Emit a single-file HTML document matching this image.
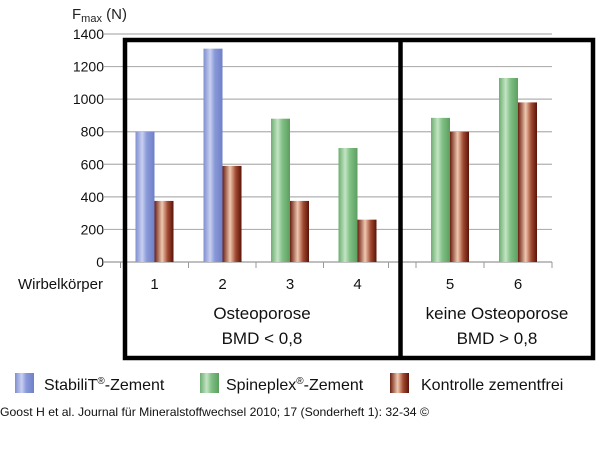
<!DOCTYPE html>
<html><head><meta charset="utf-8"><style>
body{margin:0;background:#fff;width:600px;height:461px;overflow:hidden;font-family:"Liberation Sans",sans-serif}
svg{display:block}
</style></head><body>
<svg width="600" height="461" viewBox="0 0 600 461" font-family="Liberation Sans, sans-serif">
<defs>
<linearGradient id="gb" x1="0" x2="1"><stop offset="0" stop-color="#7f8fd0"/><stop offset=".35" stop-color="#c8d0f0"/><stop offset=".6" stop-color="#8898d8"/><stop offset="1" stop-color="#6f80c8"/></linearGradient>
<linearGradient id="gg" x1="0" x2="1"><stop offset="0" stop-color="#6cae70"/><stop offset=".35" stop-color="#c4e4c4"/><stop offset=".6" stop-color="#80c084"/><stop offset="1" stop-color="#5c9e60"/></linearGradient>
<linearGradient id="gr" x1="0" x2="1"><stop offset="0" stop-color="#6a1e10"/><stop offset=".4" stop-color="#f0c8b0"/><stop offset=".7" stop-color="#a04830"/><stop offset="1" stop-color="#5a1408"/></linearGradient>
</defs>
<text x="72" y="19" font-size="15" fill="#222">F<tspan font-size="11" dy="3">max</tspan><tspan dy="-3"> (N)</tspan></text>
<g id="grid"></g>
<g id="bars"></g>
<g id="labels"></g>
<text x="103" y="289" font-size="15" text-anchor="end" fill="#111">Wirbelkörper</text>
<rect x="125" y="40" width="468" height="318" fill="none" stroke="#000" stroke-width="4.5"/>
<line x1="400.5" y1="40" x2="400.5" y2="358" stroke="#000" stroke-width="4.5"/>
<text x="262" y="319" font-size="17" text-anchor="middle" fill="#111">Osteoporose</text>
<text x="262" y="344" font-size="17" text-anchor="middle" fill="#111">BMD &lt; 0,8</text>
<text x="497" y="319" font-size="17" text-anchor="middle" fill="#111">keine Osteoporose</text>
<text x="497" y="344" font-size="17" text-anchor="middle" fill="#111">BMD &gt; 0,8</text>
<rect x="15" y="373" width="19" height="20" fill="url(#gb)"/>
<text x="44" y="390" font-size="16" fill="#111">StabiliT<tspan font-size="10" dy="-6">®</tspan><tspan dy="6">-Zement</tspan></text>
<rect x="200" y="373" width="19" height="20" fill="url(#gg)"/>
<text x="226" y="390" font-size="16" fill="#111">Spineplex<tspan font-size="10" dy="-6">®</tspan><tspan dy="6">-Zement</tspan></text>
<rect x="390" y="373" width="19" height="20" fill="url(#gr)"/>
<text x="421" y="390" font-size="16" fill="#111">Kontrolle zementfrei</text>
<text x="0" y="416" font-size="12" fill="#111" textLength="429" lengthAdjust="spacingAndGlyphs">Goost H et al. Journal für Mineralstoffwechsel 2010; 17 (Sonderheft 1): 32-34 ©</text>
</svg>
<script>
const categories=["1","2","3","4","5","6"];
const cementValues=[800,1310,880,700,885,1130];
const cementType=["stabilit","stabilit","spineplex","spineplex","spineplex","spineplex"];
const controlValues=[375,590,375,260,800,980];
const yTicks=[0,200,400,600,800,1000,1200,1400];
const NS="http://www.w3.org/2000/svg";
const cellLeft=[120.5,188.5,256,323.5,416,484];
const cellW=68;
function y(v){return 262-v*(262-34)/1400;}
function mk(t,a,p){const e=document.createElementNS(NS,t);for(const k in a)e.setAttribute(k,a[k]);p.appendChild(e);return e;}
const grid=document.getElementById('grid');
yTicks.forEach(v=>{
  const l=mk('line',{x1:104,x2:552,y1:y(v),y2:y(v),stroke:v===0?'#999':'#b0b0b0','stroke-width':1.2},grid);
  
  
  const t=mk('text',{x:104,y:y(v)+5,'font-size':14,'text-anchor':'end',fill:'#111'},grid);
  t.textContent=v;
  
  
});
[120.5,188.5,256,323.5,388.5,416,484,552].forEach(x=>{
  mk('line',{x1:x,x2:x,y1:262,y2:268,stroke:'#999'},grid);
});
const bars=document.getElementById('bars'),labels=document.getElementById('labels');
categories.forEach((c,i)=>{
  const x0=cellLeft[i]+15;
  const b1=mk('rect',{x:x0,y:y(cementValues[i]),width:19,height:262-y(cementValues[i]),fill:cementType[i]==='stabilit'?'url(#gb)':'url(#gg)'},bars);
  
  
  const b2=mk('rect',{x:x0+19,y:y(controlValues[i]),width:19,height:262-y(controlValues[i]),fill:'url(#gr)'},bars);
  
  
  const t=mk('text',{x:x0+19,y:289,'font-size':15,'text-anchor':'middle',fill:'#111'},labels);
  t.textContent=c;
  
  
});
</script>
</body></html>
